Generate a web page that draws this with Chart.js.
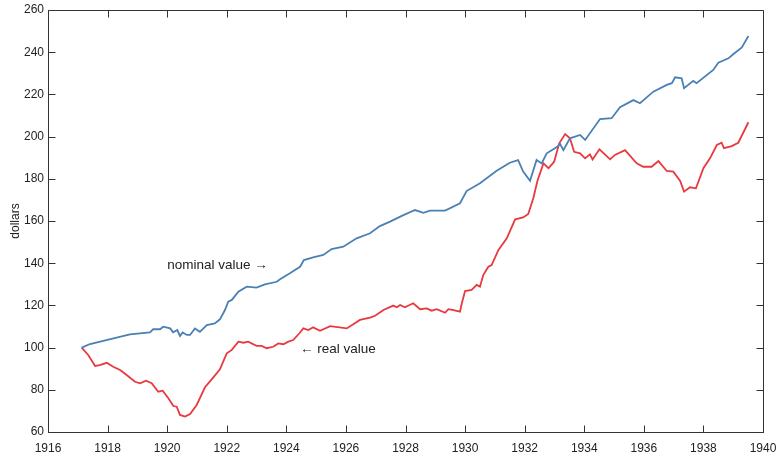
<!DOCTYPE html>
<html>
<head>
<meta charset="utf-8">
<script src="https://cdn.jsdelivr.net/npm/chart.js@4/dist/chart.umd.min.js"></script>
<style>
    body { margin: 0; background: #fff; }
    .caja { width: 778px; height: 457px; }
</style>
</head>
<body>
<div class="caja"><canvas id="grafica"></canvas></div>
<script>
// datos
const nominalYears = [1917.13,1917.41,1918.75,1919.42,1919.53,1919.76,1919.87,1920.1,1920.2,1920.34,1920.43,1920.52,1920.66,1920.77,1920.93,1921.1,1921.33,1921.6,1921.77,1921.94,1922.05,1922.17,1922.39,1922.67,1923.0,1923.28,1923.68,1923.79,1924.12,1924.46,1924.59,1924.9,1925.24,1925.52,1925.91,1926.36,1926.81,1927.14,1927.48,1927.93,1928.32,1928.6,1928.82,1929.33,1929.83,1930.05,1930.5,1931.06,1931.5,1931.78,1931.95,1932.18,1932.4,1932.57,1932.74,1933.07,1933.19,1933.3,1933.52,1933.86,1934.03,1934.53,1934.92,1935.2,1935.65,1935.87,1936.32,1936.77,1936.94,1937.05,1937.27,1937.35,1937.66,1937.77,1938.33,1938.5,1938.84,1939.0,1939.29,1939.51];
const nominalValues = [100,101.7,106.3,107.2,108.7,108.7,109.9,109.1,107.2,108.3,105.5,107.2,106,106,109.1,107.5,110.7,111.5,113.4,117.8,121.8,122.6,126.5,128.9,128.4,130,131.2,132.4,135.2,138.3,141.5,142.8,143.9,146.7,147.8,151.8,154.2,157.6,159.7,162.8,165.2,163.9,164.9,164.9,168.4,174.2,177.9,183.8,187.6,188.9,183.4,179.1,188.9,187.3,192.1,194.9,196.5,193.6,199.2,200.8,198.4,208.3,208.7,213.9,217.3,215.8,221.3,224.5,225.3,228.1,227.6,222.9,226.4,225.3,231.6,235.0,237.1,239.0,242.3,247.7];

const realYears = [1917.13,1917.35,1917.58,1917.74,1917.97,1918.19,1918.42,1918.64,1918.92,1919.09,1919.29,1919.48,1919.7,1919.85,1920.04,1920.21,1920.32,1920.43,1920.6,1920.77,1920.99,1921.27,1921.55,1921.77,1922.0,1922.17,1922.39,1922.56,1922.72,1923.0,1923.17,1923.34,1923.56,1923.73,1923.9,1924.07,1924.23,1924.44,1924.57,1924.74,1924.9,1925.13,1925.47,1926.03,1926.47,1926.81,1926.98,1927.26,1927.59,1927.71,1927.82,1927.98,1928.26,1928.49,1928.71,1928.88,1929.05,1929.33,1929.44,1929.61,1929.83,1929.89,1930.0,1930.22,1930.39,1930.5,1930.61,1930.78,1930.89,1931.12,1931.4,1931.68,1931.95,1932.12,1932.29,1932.43,1932.63,1932.8,1932.99,1933.16,1933.36,1933.52,1933.66,1933.86,1934.03,1934.19,1934.28,1934.51,1934.87,1935.03,1935.37,1935.76,1935.98,1936.26,1936.49,1936.77,1936.99,1937.22,1937.35,1937.55,1937.75,1938.0,1938.22,1938.45,1938.61,1938.69,1938.95,1939.17,1939.51];
const realValues = [100,96.5,91.3,91.7,92.8,90.9,89.4,87,83.8,83.1,84.3,83.1,79.1,79.6,76,72.3,72,68.1,67.3,68.5,72.8,81.2,85.9,89.7,97.3,98.9,102.8,102.3,102.8,100.8,100.8,99.7,100.4,102,101.6,102.8,103.6,106.8,109.1,108.3,109.6,108,110.2,109.1,113.1,114.2,115.1,117.8,119.9,119.1,120.2,119.1,121,118.2,118.6,117.5,118.2,116.5,118.2,117.8,117,121,126.8,127.3,129.7,128.9,134.4,138.3,139.1,146.3,151.8,160.8,161.7,163.3,170.8,179.1,187.3,185,188.1,196.8,201.2,199.2,192.8,192.1,189.7,191.6,189.2,194,189.2,191.3,193.6,187.3,185.7,185.7,188.4,183.7,183.4,179,173.9,176,175.5,185,189.7,196,197.1,194.5,195.5,197.1,206.8];

const xTicks = [1916,1918,1920,1922,1924,1926,1928,1930,1932,1934,1936,1938,1940];
const yTicks = [60,80,100,120,140,160,180,200,220,240,260];

const etiquetas = [
    { text: 'nominal value \u2192', x: 1920.0, y: 139.1 },
    { text: '\u2190 real value', x: 1924.46, y: 99.3 }
];

const puntos = (xs, ys) => xs.map((x, i) => ({ x: x, y: ys[i] }));

// marco con ticks hacia dentro (estilo matlab)
const marco = {
    id: 'marco',
    afterDatasetsDraw(chart) {
        const ctx = chart.ctx;
        const area = chart.chartArea;
        const sx = chart.scales.x;
        const sy = chart.scales.y;
        const l = Math.round(area.left) + 0.5;
        const r = Math.round(area.right) + 0.5;
        const t = Math.round(area.top) + 0.5;
        const b = Math.round(area.bottom) + 0.5;
        ctx.save();
        ctx.globalAlpha = 1;
        ctx.setLineDash([]);
        ctx.strokeStyle = '#333333';
        ctx.lineWidth = 1;
        ctx.beginPath();
        ctx.moveTo(l, t);
        ctx.lineTo(r, t);
        ctx.lineTo(r, b);
        ctx.lineTo(l, b);
        ctx.closePath();
        xTicks.forEach(v => {
            const px = Math.round(sx.getPixelForValue(v)) + 0.5;
            ctx.moveTo(px, b); ctx.lineTo(px, b - 7);
            ctx.moveTo(px, t); ctx.lineTo(px, t + 7);
        });
        yTicks.forEach(v => {
            const py = Math.round(sy.getPixelForValue(v)) + 0.5;
            ctx.moveTo(l, py); ctx.lineTo(l + 7, py);
            ctx.moveTo(r, py); ctx.lineTo(r - 7, py);
        });
        ctx.stroke();

        ctx.fillStyle = '#222';
        ctx.font = '13.5px "Liberation Sans", Arial, sans-serif';
        ctx.textBaseline = 'middle';
        ctx.textAlign = 'left';
        etiquetas.forEach(e => {
            ctx.fillText(e.text, sx.getPixelForValue(e.x), sy.getPixelForValue(e.y));
        });
        ctx.restore();
    }
};

const fuente = { family: '"Liberation Sans", Arial, sans-serif', size: 12 };

new Chart(document.getElementById('grafica'), {
    type: 'line',
    data: {
        datasets: [{
            label: 'nominal value',
            data: puntos(nominalYears, nominalValues),
            borderColor: '#4a80b3',
            borderWidth: 1.8,
            pointRadius: 0,
            tension: 0
        }, {
            label: 'real value',
            data: puntos(realYears, realValues),
            borderColor: '#e8393f',
            borderWidth: 1.8,
            pointRadius: 0,
            tension: 0
        }]
    },
    options: {
        responsive: true,
        maintainAspectRatio: false,
        animation: false,
        layout: { padding: { top: 10, right: 15, left: 0, bottom: 0 } },
        plugins: {
            legend: { display: false },
            tooltip: { enabled: false }
        },
        scales: {
            x: {
                type: 'linear',
                min: 1916,
                max: 1940,
                afterBuildTicks: s => { s.ticks = xTicks.map(v => ({ value: v })); },
                afterFit: s => { s.height = 25; s.paddingLeft = 0; s.paddingRight = 0; },
                grid: { display: false, drawTicks: false },
                border: { display: false },
                ticks: {
                    color: '#222',
                    font: fuente,
                    padding: 9,
                    maxRotation: 0,
                    autoSkip: false,
                    callback: v => String(v)
                }
            },
            y: {
                min: 60,
                max: 260,
                afterBuildTicks: s => { s.ticks = yTicks.map(v => ({ value: v })); },
                afterFit: s => { s.width = 48; s.paddingTop = 0; s.paddingBottom = 0; },
                grid: { display: false, drawTicks: false },
                border: { display: false },
                title: { display: true, text: 'dollars', color: '#222', font: fuente, padding: { top: 8, bottom: 0 } },
                ticks: {
                    color: '#222',
                    font: fuente,
                    padding: 4,
                    callback: v => String(v)
                }
            }
        }
    },
    plugins: [marco]
});
</script>
</body>
</html>
